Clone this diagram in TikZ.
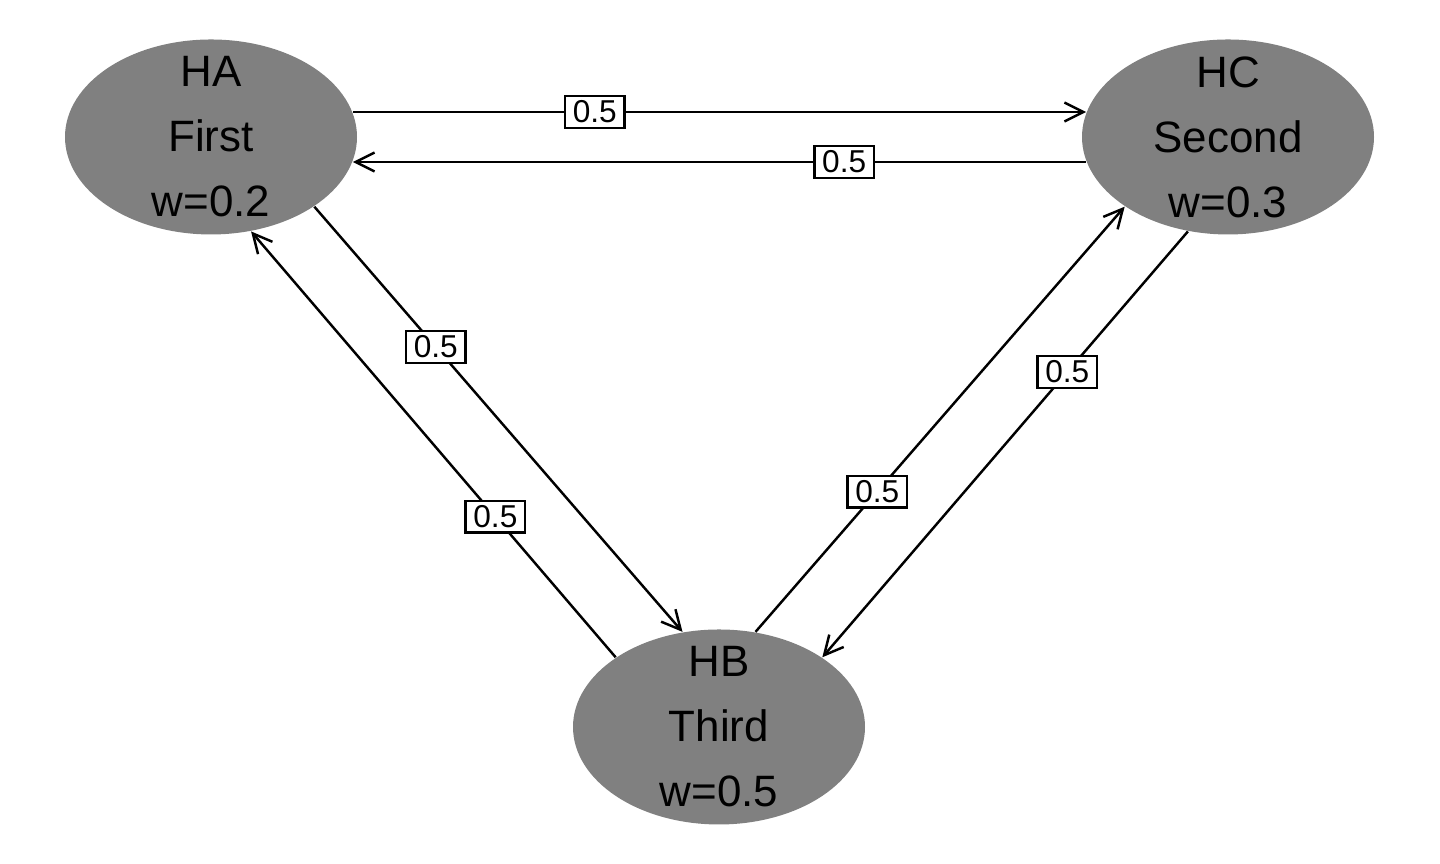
\documentclass[tikz,border=0pt]{standalone}
\usepackage{fontspec}
\setmainfont{Liberation Sans}
\usetikzlibrary{shapes.geometric}
\usetikzlibrary{arrows.meta}

\begin{document}
\begin{tikzpicture}[
    hyp/.style={ellipse, fill=black!50, minimum width=2.92cm, minimum height=1.95cm,
        inner xsep=0pt, inner ysep=-10pt, align=center, font=\fontsize{12.5}{18.5}\selectfont},
    edge/.style={-{Straight Barb[length=1.9mm,width=1.9mm]}, line width=0.7pt},
    wt/.style={draw, fill=white, line width=0.7pt, inner xsep=2.2pt, inner ysep=1.3pt,
        font=\fontsize{9}{10}\selectfont, pos=0.33}
]
    \useasboundingbox (0,0) rectangle (14.4,8.64);

    % Hypotheses
    \node[hyp] (HA) at (2.11,7.27) {HA\\First\\w=0.2};
    \node[hyp] (HC) at (12.28,7.27) {HC\\Second\\w=0.3};
    \node[hyp] (HB) at (7.19,1.37) {HB\\Third\\w=0.5};

    % Top pair
    \draw[edge] (HA.10) -- node[wt] {0.5} (HC.170);
    \draw[edge] (HC.190) -- node[wt] {0.5} (HA.-10);

    % Left pair
    \draw[edge] (HA.-34) -- node[wt] {0.5} (HB.111);
    \draw[edge] (HB.146) -- node[wt] {0.5} (HA.-67);

    % Right pair
    \draw[edge] (HB.69) -- node[wt] {0.5} (HC.214);
    \draw[edge] (HC.-113) -- node[wt] {0.5} (HB.34);

\end{tikzpicture}
\end{document}
